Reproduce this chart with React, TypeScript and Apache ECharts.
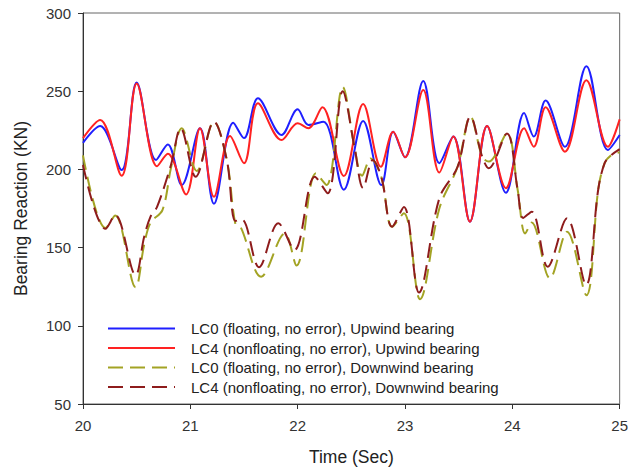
import React, { useEffect, useRef } from "react";
import * as echarts from "echarts";

// Bearing reaction time histories (time in s, reaction in kN)
const LC0_UP_T = [20.0, 20.16, 20.36, 20.5, 20.68, 20.79, 20.92, 21.09, 21.22, 21.4, 21.5, 21.63, 21.85, 22.0, 22.1, 22.24, 22.43, 22.61, 22.78, 22.89, 23.0, 23.17, 23.32, 23.45, 23.605, 23.765, 23.94, 24.11, 24.2, 24.31, 24.49, 24.69, 24.89, 25.0];
const LC0_UP_V = [217, 227.7, 199.6, 255.5, 206, 216, 190, 226.3, 178, 229.9, 220, 245.5, 222, 238.4, 228.4, 230.5, 187, 231, 190, 224, 207.7, 256.6, 204, 221, 166.6, 227.7, 185, 236, 221, 244, 214.5, 266, 212.4, 222];

const LC4_UP_T = [20.0, 20.16, 20.36, 20.5, 20.69, 20.79, 20.96, 21.09, 21.22, 21.37, 21.5, 21.63, 21.85, 22.0, 22.1, 22.23, 22.43, 22.61, 22.775, 22.89, 23.0, 23.17, 23.32, 23.45, 23.605, 23.765, 23.94, 24.11, 24.2, 24.31, 24.49, 24.69, 24.89, 25.0];
const LC4_UP_V = [220, 231.6, 196, 255, 202, 210, 184, 226.3, 182.5, 221.4, 204, 242.3, 218.8, 229.5, 226.3, 239.7, 195.8, 241.8, 201.7, 224, 207.7, 250.8, 198, 221, 166.6, 227.7, 188, 226.3, 214.5, 239.7, 211.3, 257, 214.5, 232];

const LC0_DOWN_T = [20.0, 20.21, 20.3, 20.49, 20.57, 20.63, 20.74, 20.82, 20.92, 21.06, 21.22, 21.34, 21.42, 21.47, 21.66, 21.88, 21.99, 22.17, 22.27, 22.42, 22.53, 22.6, 22.68, 22.78, 22.88, 22.99, 23.14, 23.32, 23.49, 23.61, 23.72, 23.78, 23.95, 24.05, 24.12, 24.18, 24.35, 24.51, 24.69, 24.8, 24.86, 24.92, 25.0];
const LC0_DOWN_V = [209, 162.5, 170.5, 124.6, 152, 166, 174, 201, 226.3, 199, 230.5, 206, 165, 163, 131.4, 159, 138.5, 197.5, 190, 252.7, 214, 196, 207, 195, 163.4, 172, 117, 175, 201.7, 233.7, 208, 205, 223, 186.8, 159, 166, 130.4, 160.2, 119.5, 187, 204, 209, 211];

const LC4_DOWN_T = [20.0, 20.21, 20.3, 20.49, 20.57, 20.63, 20.69, 20.82, 20.91, 21.05, 21.22, 21.34, 21.42, 21.48, 21.64, 21.82, 21.97, 22.16, 22.28, 22.42, 22.53, 22.61, 22.7, 22.78, 22.88, 22.99, 23.13, 23.32, 23.49, 23.61, 23.72, 23.78, 23.95, 24.05, 24.1, 24.18, 24.33, 24.51, 24.687, 24.8, 24.86, 24.92, 25.0];
const LC4_DOWN_V = [202.8, 162, 170.8, 132.5, 157, 170, 176, 203, 226.3, 195.3, 230.5, 206, 167, 168, 137.5, 165.5, 148.5, 195.3, 184.7, 250, 214, 188, 206, 195, 163.4, 176, 121.3, 181.5, 201.7, 233.7, 208, 200.7, 223, 186.8, 169, 173, 137.8, 168.7, 126.1, 187, 204, 209, 213];

const SERIES_NAMES = [
  "LC0 (floating, no error), Upwind bearing",
  "LC4 (nonfloating, no error), Upwind bearing",
  "LC0 (floating, no error), Downwind bearing",
  "LC4 (nonfloating, no error), Downwind bearing",
];

const X_TICKS = [20, 21, 22, 23, 24, 25];
const Y_TICKS = [50, 100, 150, 200, 250, 300];

const FONT = 'Arial, "Liberation Sans", Helvetica, sans-serif';

const zip = (t: number[], v: number[]) => t.map((x, i) => [x, v[i]]);

export default function App() {
  const ref = useRef<HTMLDivElement>(null);

  useEffect(() => {
    if (!ref.current) return;
    const chart = echarts.init(ref.current, undefined, { renderer: "svg" });

    const dash = [15, 7];
    const lineSeries = (name: string, data: number[][], color: string, dashed: boolean) => ({
      name,
      type: "line",
      data,
      smooth: 0.35,
      symbol: "none",
      showSymbol: false,
      lineStyle: { color, width: 2, type: dashed ? dash : "solid" },
      itemStyle: { color },
    });

    chart.setOption({
      animation: false,
      backgroundColor: "#ffffff",
      textStyle: { fontFamily: FONT },
      grid: {
        left: 83,
        right: 7,
        top: 13,
        bottom: 69,
        show: true,
        borderColor: "#666",
        borderWidth: 1,
        backgroundColor: "transparent",
      },
      legend: {
        orient: "vertical",
        left: 107,
        top: 321,
        padding: 0,
        itemWidth: 67,
        itemHeight: 14,
        itemGap: 4.5,
        data: SERIES_NAMES,
        // only the line sample is drawn, no marker on it
        itemStyle: { color: "transparent", borderColor: "transparent", borderWidth: 0, opacity: 0 },
        textStyle: {
          fontFamily: FONT,
          fontSize: 15,
          color: "#222",
          padding: [0, 0, 0, 11],
        },
      },
      xAxis: {
        type: "value",
        min: X_TICKS[0],
        max: X_TICKS[X_TICKS.length - 1],
        interval: 1,
        name: "Time (Sec)",
        nameLocation: "middle",
        nameGap: 44,
        nameTextStyle: { fontFamily: FONT, fontSize: 17.5, color: "#222" },
        axisLine: { show: true, lineStyle: { color: "#333", width: 1 } },
        axisTick: { show: true, length: 5, lineStyle: { color: "#333" } },
        axisLabel: { fontFamily: FONT, fontSize: 15, color: "#333", margin: 14 },
        splitLine: { show: false },
      },
      yAxis: {
        type: "value",
        min: Y_TICKS[0],
        max: Y_TICKS[Y_TICKS.length - 1],
        interval: 50,
        name: "Bearing Reaction (KN)",
        nameLocation: "middle",
        nameGap: 53,
        nameTextStyle: { fontFamily: FONT, fontSize: 17.5, color: "#222" },
        axisLine: { show: true, lineStyle: { color: "#333", width: 1 } },
        axisTick: { show: true, length: 5, lineStyle: { color: "#333" } },
        axisLabel: { fontFamily: FONT, fontSize: 15, color: "#333", margin: 12 },
        splitLine: { show: false },
      },
      series: [
        lineSeries(SERIES_NAMES[0], zip(LC0_UP_T, LC0_UP_V), "#1f1fff", false),
        lineSeries(SERIES_NAMES[1], zip(LC4_UP_T, LC4_UP_V), "#ff2222", false),
        lineSeries(SERIES_NAMES[2], zip(LC0_DOWN_T, LC0_DOWN_V), "#a3a324", true),
        lineSeries(SERIES_NAMES[3], zip(LC4_DOWN_T, LC4_DOWN_V), "#8e1c1c", true),
      ],
    });

    return () => chart.dispose();
  }, []);

  return (
    <div
      ref={ref}
      style={{ position: "fixed", left: 0, top: 0, width: 631, height: 473, background: "#fff" }}
    />
  );
}
